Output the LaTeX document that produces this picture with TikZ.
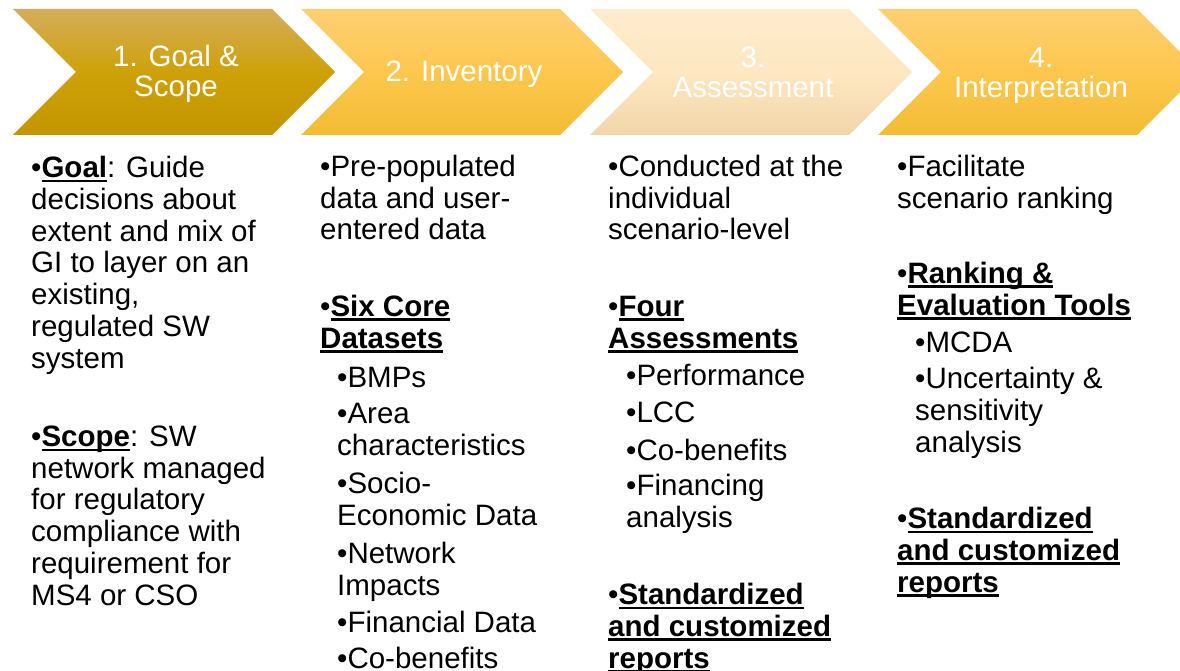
\documentclass[tikz,border=0pt]{standalone}
\usepackage{fontspec}
\setmainfont{Liberation Sans}

\definecolor{goldtop}{RGB}{212,173,92}
\definecolor{goldmid}{RGB}{206,161,8}
\definecolor{goldbot}{RGB}{195,149,0}
\definecolor{ambertop}{RGB}{255,207,115}
\definecolor{ambermid}{RGB}{253,199,78}
\definecolor{amberbot}{RGB}{242,188,52}
\definecolor{creamtop}{RGB}{255,236,205}
\definecolor{creammid}{RGB}{254,231,194}
\definecolor{creambot}{RGB}{240,214,168}

\newcommand{\ulhead}[1]{\setbox0=\hbox{\bfseries #1}\rlap{\vrule height -2pt depth 4.5pt width \wd0}\box0}

\begin{document}
\begin{tikzpicture}[x=1pt,y=-1pt,
    body/.style={anchor=base west, align=left, inner sep=0pt, font=\fontsize{29.5}{31.7}\selectfont},
    stagelabel/.style={anchor=base, align=center, inner sep=0pt, text=white, font=\fontsize{29.5}{30}\selectfont}]
  \clip (0,0) rectangle (1180,671);
  \fill[white] (0,0) rectangle (1180,671);

  \shade[top color=goldtop, bottom color=goldbot, middle color=goldmid]
    (13,9) -- (272,9) -- (335,72) -- (272,135) -- (13,135) -- (76,72) -- cycle;
  \shade[top color=ambertop, bottom color=amberbot, middle color=ambermid]
    (301,9) -- (560,9) -- (623,72) -- (560,135) -- (301,135) -- (364,72) -- cycle;
  \shade[top color=creamtop, bottom color=creambot, middle color=creammid]
    (590,9) -- (849,9) -- (912,72) -- (849,135) -- (590,135) -- (653,72) -- cycle;
  \shade[top color=ambertop, bottom color=amberbot, middle color=ambermid]
    (878,9) -- (1137,9) -- (1200,72) -- (1137,135) -- (878,135) -- (941,72) -- cycle;

  % base of a multi-line node sits on its last line
  \node[stagelabel] (goal) at (176,97) {1. Goal \&\\Scope};
  \node[stagelabel] (inventory) at (464,82) {2. Inventory};
  \node[stagelabel] (assessment) at (753,98) {3.\\Assessment};
  \node[stagelabel] (interpretation) at (1041,98) {4.\\Interpretation};

  \node[body] (goaltext) at (31,368) {•\ulhead{Goal}: Guide\\decisions about\\extent and mix of\\GI to layer on an\\existing,\\regulated SW\\system};
  \node[body] (scopetext) at (31,605) {•\ulhead{Scope}: SW\\network managed\\for regulatory\\compliance with\\requirement for\\MS4 or CSO};

  \node[body] (prepop) at (320,240) {•Pre-populated\\data and user-\\entered data};
  \node[body] (datasets) at (320,348) {•\ulhead{Six Core}\\\ulhead{Datasets}};
  \node[body] (bmps) at (337,387) {•BMPs};
  \node[body] (area) at (337,455) {•Area\\characteristics};
  \node[body] (socio) at (337,525) {•Socio-\\Economic Data};
  \node[body] (network) at (337,595) {•Network\\Impacts};
  \node[body] (financial) at (337,632) {•Financial Data};
  \node[body] (cobenefits) at (337,668) {•Co-benefits};

  \node[body] (conducted) at (608,240) {•Conducted at the\\individual\\scenario-level};
  \node[body] (assessments) at (608,348) {•\ulhead{Four}\\\ulhead{Assessments}};
  \node[body] (performance) at (626,385) {•Performance};
  \node[body] (lcc) at (626,422) {•LCC};
  \node[body] (cobenefitsb) at (626,460) {•Co-benefits};
  \node[body] (financing) at (626,527) {•Financing\\analysis};
  \node[body] (reportsa) at (608,668) {•\ulhead{Standardized}\\\ulhead{and customized}\\\ulhead{reports}};

  \node[body] (facilitate) at (897,208) {•Facilitate\\scenario ranking};
  \node[body] (tools) at (897,315) {•\ulhead{Ranking \&}\\\ulhead{Evaluation Tools}};
  \node[body] (mcda) at (915,352) {•MCDA};
  \node[body] (uncertainty) at (915,452) {•Uncertainty \&\\sensitivity\\analysis};
  \node[body] (reportsb) at (897,592) {•\ulhead{Standardized}\\\ulhead{and customized}\\\ulhead{reports}};
\end{tikzpicture}
\end{document}
